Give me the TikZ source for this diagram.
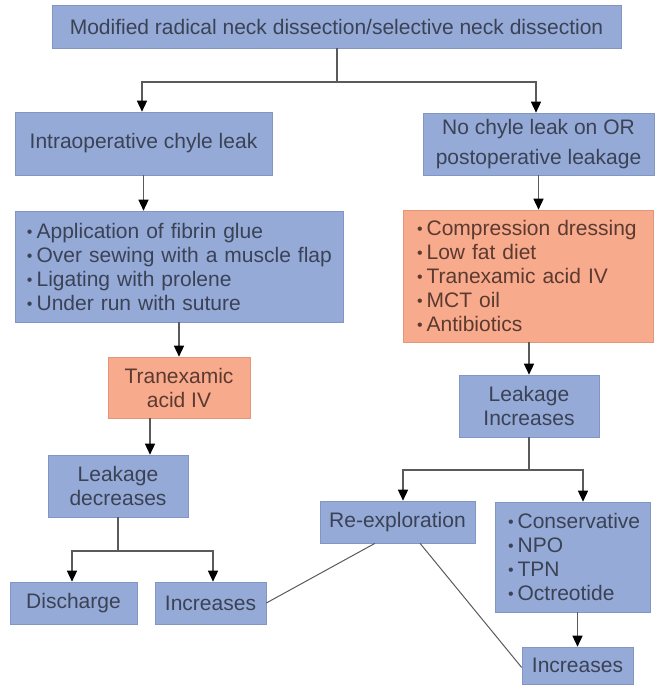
\documentclass[tikz,border=0pt]{standalone}
\usepackage{fontspec}
\setmainfont{Liberation Sans}
\usetikzlibrary{arrows.meta}
\definecolor{bfill}{RGB}{150,170,215}
\definecolor{bedge}{RGB}{130,150,198}
\definecolor{ofill}{RGB}{247,170,140}
\definecolor{oedge}{RGB}{228,150,120}
\definecolor{btext}{RGB}{58,66,86}
\definecolor{otext}{RGB}{92,58,48}
\definecolor{lgray}{RGB}{90,90,90}
\newcommand\bi[1]{\mbox{\raisebox{1pt}{\fontsize{16}{16}\selectfont\textbullet}\hspace{4pt}#1}}
\begin{document}
\begin{tikzpicture}[x=1pt,y=-1pt,
  box/.style={rectangle, fill=bfill, draw=bedge, line width=0.6pt, inner sep=0pt,
    text=btext, font=\fontsize{21}{24}\selectfont, align=center},
  obox/.style={box, fill=ofill, draw=oedge, text=otext},
  conn/.style={draw=lgray, line width=1.4pt},
  arr/.style={conn, -{Triangle[width=10pt,length=11pt,color=black]}}]
\useasboundingbox (0,0) rectangle (654,685);

% nodes
\node[box, minimum width=569pt, minimum height=43pt] (top) at (336.5,26.5)
  {Modified radical neck dissection/selective neck dissection};
\node[box, minimum width=257pt, minimum height=63pt] (intra) at (143.5,143.5)
  {Intraoperative chyle leak};
\node[box, minimum width=231pt, minimum height=62pt, font=\fontsize{21}{30}\selectfont] (nochyle) at (538.5,144)
  {No chyle leak on OR\\postoperative leakage};
\node[box, minimum width=328pt, minimum height=111pt, text width=304pt, align=left] (app) at (179,266.5)
  {\bi{Application of fibrin glue}\\\bi{Over sewing with a muscle flap}\\\bi{Ligating with prolene}\\\bi{Under run with suture}};
\node[obox, minimum width=250pt, minimum height=132pt, text width=222pt, align=left] (comp) at (528,276)
  {\bi{Compression dressing}\\\bi{Low fat diet}\\\bi{Tranexamic acid IV}\\\bi{MCT oil}\\\bi{Antibiotics}};
\node[obox, minimum width=142pt, minimum height=61pt] (tran) at (179,387.5)
  {Tranexamic\\acid IV};
\node[box, minimum width=140pt, minimum height=62pt] (leakinc) at (529,406)
  {Leakage\\Increases};
\node[box, minimum width=140pt, minimum height=62pt] (leakdec) at (118,486)
  {Leakage\\decreases};
\node[box, minimum width=127pt, minimum height=42pt] (disch) at (73.5,603)
  {Discharge};
\node[box, minimum width=111pt, minimum height=42pt] (incL) at (210.5,603)
  {Increases};
\node[box, minimum width=155pt, minimum height=42pt] (reexp) at (397.5,522)
  {Re-exploration};
\node[box, minimum width=155pt, minimum height=110pt, text width=129pt, align=left] (cons) at (572.5,557)
  {\bi{Conservative}\\\bi{NPO}\\\bi{TPN}\\\bi{Octreotide}};
\node[box, minimum width=111pt, minimum height=37pt] (incR) at (577.5,665.5)
  {Increases};

% junction coordinates
\coordinate (j1) at (337,82);
\coordinate (j2) at (118,551);
\coordinate (j3) at (529,470);

% connectors
\draw[conn] (top.south -| j1) -- (j1);
\draw[arr] (j1) -| ([xshift=-1.5pt]intra.north);
\draw[arr] (j1) -| ([xshift=-2.5pt]nochyle.north);
\draw[arr] (intra.south) -- (intra.south |- app.north);
\draw[arr] (nochyle.south) -- (nochyle.south |- comp.north);
\draw[arr] (app.south) -- (tran.north);
\draw[arr] (comp.south -| leakinc.north) -- (leakinc.north);
\draw[arr] ([xshift=-29pt]tran.south) -- ([xshift=32pt]leakdec.north);
\draw[conn] (leakdec.south) -- (j2);
\draw[arr] (j2) -| ([xshift=-1.5pt]disch.north);
\draw[arr] (j2) -| ([xshift=2.5pt]incL.north);
\draw[conn] (leakinc.south) -- (j3);
\draw[arr] (j3) -| ([xshift=5.5pt]reexp.north);
\draw[arr] (j3) -| ([xshift=10.5pt]cons.north);
\draw[arr] (cons.south -| incR.north) -- (incR.north);
\draw[line width=1pt, draw=lgray] (incL.east) -- ([xshift=-22.5pt]reexp.south);
\draw[line width=1pt, draw=lgray] ([xshift=22.5pt]reexp.south) -- ([yshift=-2pt]incR.west);
\end{tikzpicture}
\end{document}
